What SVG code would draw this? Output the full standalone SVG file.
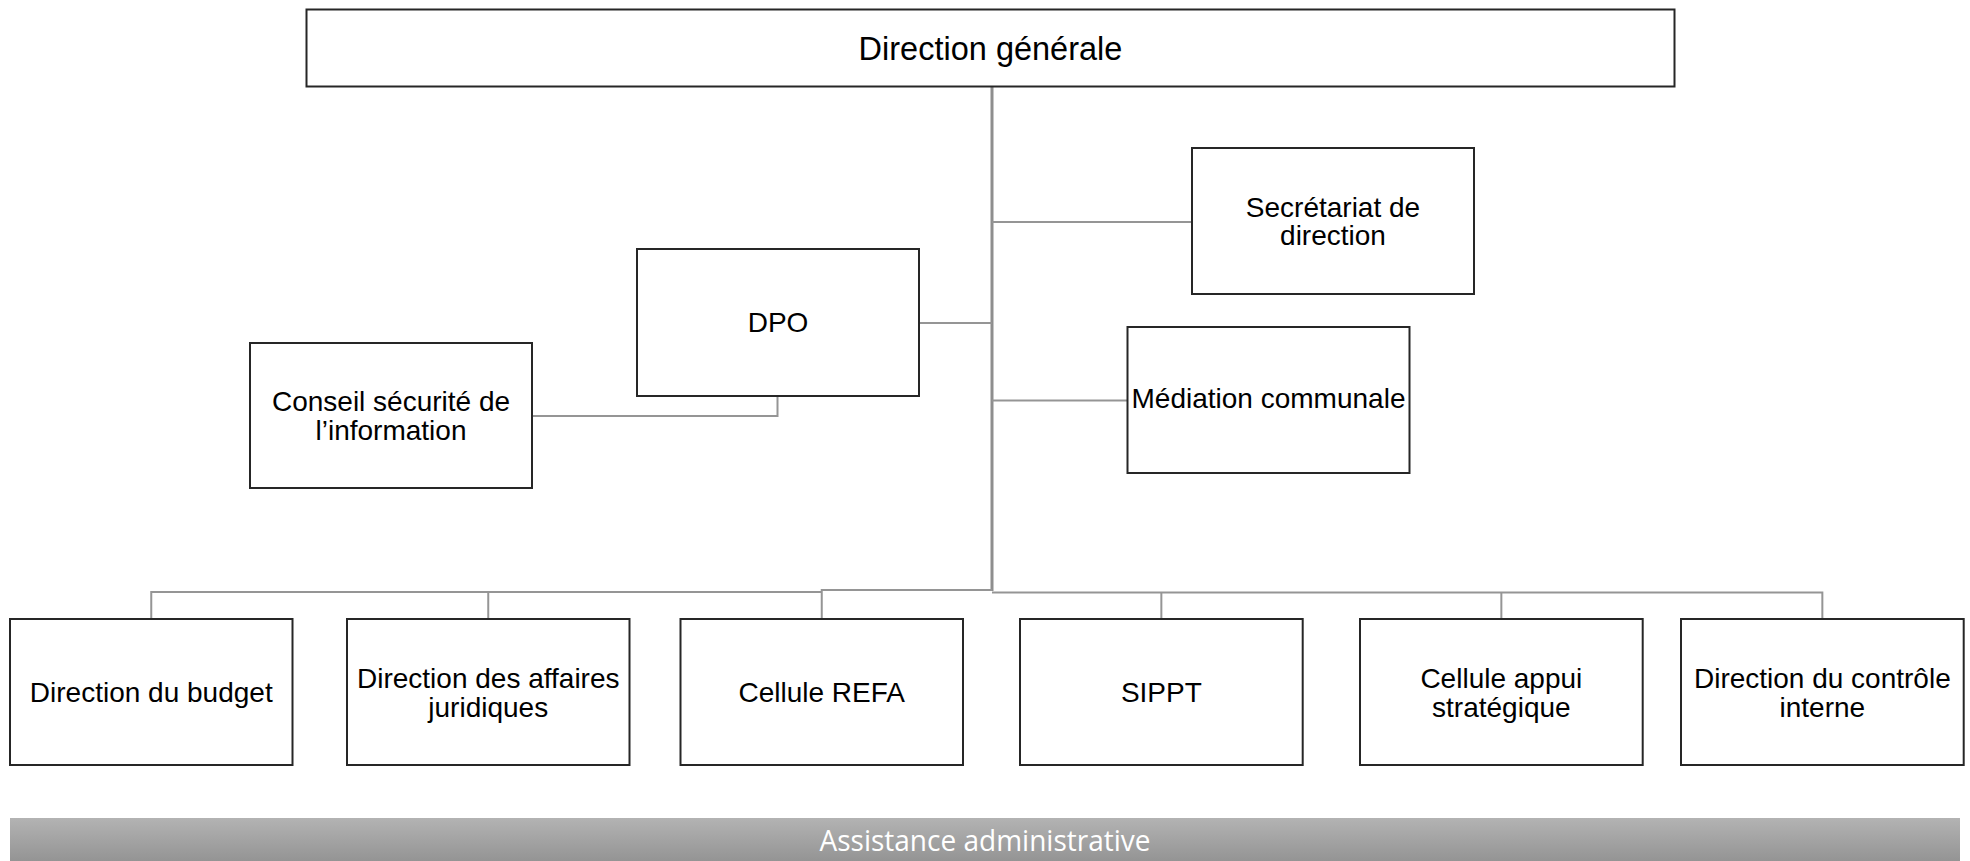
<svg xmlns="http://www.w3.org/2000/svg" width="1970" height="861" viewBox="0 0 1970 861">
  <defs>
    <linearGradient id="barGrad" x1="0" y1="0" x2="0" y2="1">
      <stop offset="0" stop-color="#b3b3b3"/>
      <stop offset="1" stop-color="#949494"/>
    </linearGradient>
  </defs>
  <style>
    .box { fill: #ffffff; stroke: #262626; stroke-width: 2; }
    .lbl { font-family: "Liberation Sans", Arial, sans-serif; font-size: 28px; fill: #000000; text-anchor: middle; }
    .big { font-size: 32.5px; }
    .conn { fill: none; stroke: #959595; stroke-width: 2; }
    .trunk { fill: none; stroke: #8e8e8e; stroke-width: 3; }
    .bar-text { font-family: "Open Sans", "Liberation Sans", sans-serif; font-size: 30px; fill: #ffffff; text-anchor: middle; }
  </style>
  <rect width="1970" height="861" fill="#ffffff"/>

  <g id="connectors">
    <line class="trunk" x1="992" y1="86" x2="992" y2="591"/>
    <line class="conn" x1="992" y1="222" x2="1192" y2="222"/>
    <line class="conn" x1="919" y1="323" x2="992" y2="323"/>
    <line class="conn" x1="992" y1="400.5" x2="1127" y2="400.5"/>
    <path class="conn" d="M532,416 H777.5 V396"/>
    <path class="conn" d="M151.25,619 V592 H821"/>
    <path class="conn" d="M821.75,619 V590 H992"/>
    <path class="conn" d="M992,592.5 H1822.35 V619"/>
    <line class="conn" x1="488.25" y1="592" x2="488.25" y2="619"/>
    <line class="conn" x1="1161.35" y1="592.5" x2="1161.35" y2="619"/>
    <line class="conn" x1="1501.35" y1="592.5" x2="1501.35" y2="619"/>
  </g>

  <g id="direction-generale">
    <rect class="box" x="306.5" y="9.5" width="1368" height="77"/>
    <text class="lbl big" x="990.5" y="60">Direction générale</text>
  </g>

  <g id="secretariat">
    <rect class="box" x="1192" y="148" width="282" height="146"/>
    <text class="lbl" x="1333" y="216.5">Secrétariat de</text>
    <text class="lbl" x="1333" y="245">direction</text>
  </g>

  <g id="dpo">
    <rect class="box" x="637" y="249" width="282" height="147"/>
    <text class="lbl" x="778" y="331.5">DPO</text>
  </g>

  <g id="mediation">
    <rect class="box" x="1127.5" y="327" width="282" height="146"/>
    <text class="lbl" x="1268.5" y="408">Médiation communale</text>
  </g>

  <g id="conseil">
    <rect class="box" x="250" y="343" width="282" height="145"/>
    <text class="lbl" x="391" y="411">Conseil sécurité de</text>
    <text class="lbl" x="391" y="440">l’information</text>
  </g>

  <g id="budget">
    <rect class="box" x="10" y="619" width="282.5" height="146"/>
    <text class="lbl" x="151.25" y="702">Direction du budget</text>
  </g>

  <g id="juridiques">
    <rect class="box" x="347" y="619" width="282.5" height="146"/>
    <text class="lbl" x="488.25" y="687.5">Direction des affaires</text>
    <text class="lbl" x="488.25" y="716.5">juridiques</text>
  </g>

  <g id="refa">
    <rect class="box" x="680.5" y="619" width="282.5" height="146"/>
    <text class="lbl" x="821.75" y="702">Cellule REFA</text>
  </g>

  <g id="sippt">
    <rect class="box" x="1020" y="619" width="282.7" height="146"/>
    <text class="lbl" x="1161.35" y="702">SIPPT</text>
  </g>

  <g id="appui">
    <rect class="box" x="1360" y="619" width="282.7" height="146"/>
    <text class="lbl" x="1501.35" y="687.5">Cellule appui</text>
    <text class="lbl" x="1501.35" y="716.5">stratégique</text>
  </g>

  <g id="controle">
    <rect class="box" x="1681" y="619" width="282.7" height="146"/>
    <text class="lbl" x="1822.35" y="687.5">Direction du contrôle</text>
    <text class="lbl" x="1822.35" y="716.5">interne</text>
  </g>

  <g id="assistance">
    <rect x="10" y="818" width="1950" height="43" fill="url(#barGrad)"/>
    <text class="bar-text" x="985" y="851" textLength="331" lengthAdjust="spacingAndGlyphs">Assistance administrative</text>
  </g>
</svg>
